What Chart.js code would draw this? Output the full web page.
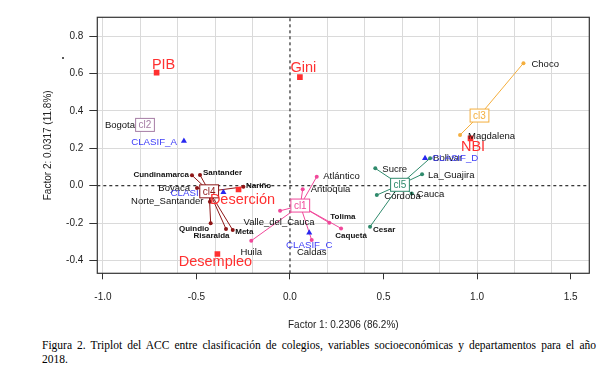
<!DOCTYPE html>
<html>
<head>
<meta charset="utf-8">
<script src="https://cdn.jsdelivr.net/npm/chart.js@4.4.0/dist/chart.umd.min.js"></script>
<style>
  html, body { margin: 0; padding: 0; background: #fff; }
  #wrap { position: relative; width: 606px; height: 378px; overflow: hidden; }
  #caption {
    position: absolute; left: 42px; top: 338px; width: 554px;
    font-family: "Liberation Serif", "Times New Roman", serif;
    font-size: 11.5px; line-height: 14px; color: #000;
  }
  #caption .l1 { text-align: justify; text-align-last: justify; }
  #stray { position: absolute; left: 61.5px; top: 56.5px; width: 2px; height: 2px; background: #222; border-radius: 1px; }
</style>
</head>
<body>
<div id="wrap">
  <canvas id="acc" width="606" height="336"></canvas>
  <div id="stray"></div>
  <div id="caption">
    <div class="l1">Figura 2. Triplot del ACC entre clasificación de colegios, variables socioeconómicas y departamentos para el año</div>
    <div>2018.</div>
  </div>
</div>
<script>
// ---------------------------------------------------------------
//  Datos
// ---------------------------------------------------------------
const departamentos = ['Bogota', 'Cundinamarca', 'Santander', 'Boyaca', 'Nariño', 'Norte_Santander', 'Quindio', 'Risaralda', 'Meta',
  'Atlántico', 'Antioquia', 'Valle_del_Cauca', 'Huila', 'Tolima', 'Caquetá', 'Caldas',
  'Sucre', 'La_Guajira', 'Córdoba', 'Cauca', 'Cesar', 'Bolivar', 'Choco', 'Magdalena'];
const depX = [-0.775, -0.524, -0.481, -0.497, -0.249, -0.428, -0.424, -0.342, -0.306,
  0.143, 0.068, -0.053, -0.207, 0.210, 0.273, 0.116,
  0.456, 0.706, 0.464, 0.651, 0.428, 0.749, 1.248, 0.909];
const depY = [0.325, 0.056, 0.057, -0.012, -0.006, -0.086, -0.201, -0.231, -0.237,
  0.048, -0.019, -0.134, -0.294, -0.198, -0.228, -0.290,
  0.093, 0.061, -0.050, -0.041, -0.219, 0.147, 0.655, 0.271];
const depCluster = ['cl2', 'cl4', 'cl4', 'cl4', 'cl4', 'cl4', 'cl4', 'cl4', 'cl4',
  'cl1', 'cl1', 'cl1', 'cl1', 'cl1', 'cl1', 'cl1',
  'cl5', 'cl5', 'cl5', 'cl5', 'cl5', 'cl5', 'cl3', 'cl3'];

const clusters = ['cl1', 'cl2', 'cl3', 'cl4', 'cl5'];
const clusterX = [0.055, -0.775, 1.013, -0.432, 0.588];
const clusterY = [-0.106, 0.325, 0.375, -0.030, 0.005];

const variables = ['PIB', 'Gini', 'NBI', 'Deserción', 'Desempleo'];
const varX = [-0.713, 0.053, 0.965, -0.275, -0.388];
const varY = [0.604, 0.580, 0.253, -0.020, -0.365];

const clasificaciones = ['CLASIF_A', 'CLASIF_B', 'CLASIF_C', 'CLASIF_D'];
const clasifX = [-0.567, -0.356, 0.103, 0.722];
const clasifY = [0.239, -0.035, -0.251, 0.147];

const xGrid = [-1.0, -0.8, -0.6, -0.4, -0.2, 0.0, 0.2, 0.4, 0.6, 0.8, 1.0, 1.2, 1.4, 1.6];
const xLabels = [-1.0, -0.5, 0.0, 0.5, 1.0, 1.5];
const yTicks = [-0.4, -0.2, 0.0, 0.2, 0.4, 0.6, 0.8];

const xMin = -1.03, xMax = 1.6, yMin = -0.468, yMax = 0.9;

// ---------------------------------------------------------------
//  Estilos
// ---------------------------------------------------------------
const colorCluster = { cl1: '#F0489A', cl2: '#A67DA5', cl3: '#F4AE3D', cl4: '#8E1616', cl5: '#2F8A6C' };
const rojo = '#FF3030';
const azul = '#2828F0';
const FUENTE = '"Liberation Sans", Arial, sans-serif';

// [alineación, dx, dy, tipo]  (n = normal 9.5px, b = negrita 8px)
const etiquetas = {
  Bogota: ['right', -10, 0, 'n'],
  Cundinamarca: ['right', -3, -0.5, 'b'],
  Santander: ['left', 3, -2.5, 'b'],
  Boyaca: ['right', -7, 0, 'n'],
  'Nariño': ['left', 2.5, -1, 'b'],
  Norte_Santander: ['right', -6.5, 0, 'n'],
  Quindio: ['right', -1.5, 5, 'b'],
  Risaralda: ['right', 3.5, 7, 'b'],
  Meta: ['left', 2.5, 2, 'b'],
  'Atlántico': ['left', 6.5, 0, 'n'],
  Antioquia: ['left', 8, 0.5, 'n'],
  Valle_del_Cauca: ['center', -1, 11.5, 'n'],
  Huila: ['center', 0, 11.5, 'n'],
  Tolima: ['left', 1, -6, 'b'],
  'Caquetá': ['center', 10, 7, 'b'],
  Caldas: ['center', 0, 12, 'n'],
  Sucre: ['left', 7, 1, 'n'],
  La_Guajira: ['left', 6, 1, 'n'],
  'Córdoba': ['left', 7.5, 1, 'n'],
  Cauca: ['left', 5, 1, 'n'],
  Cesar: ['left', 3, 3.5, 'b'],
  Bolivar: ['left', 3, 0.5, 'n'],
  Choco: ['left', 8, 1, 'n'],
  Magdalena: ['left', 8, 1.5, 'n']
};
const etiquetasVar = {
  PIB: ['center', 7, -8], Gini: ['center', 3.5, -9], NBI: ['center', 2.5, 8.5],
  'Deserción': ['center', 4, 11], Desempleo: ['center', -2, 7.5]
};
const etiquetasClasif = {
  CLASIF_A: ['right', -7, 1], CLASIF_B: ['right', -7, 1],
  CLASIF_C: ['center', 0, 12.5], CLASIF_D: ['left', 7, 0.5]
};

// ---------------------------------------------------------------
//  Datasets
// ---------------------------------------------------------------
const datasets = [];

// líneas punteadas en cero
datasets.push({ type: 'line', data: [{ x: 0, y: yMin }, { x: 0, y: yMax }], borderColor: '#000', borderWidth: 1, borderDash: [3, 3], pointRadius: 0, order: 20 });
datasets.push({ type: 'line', data: [{ x: xMin, y: 0 }, { x: xMax, y: 0 }], borderColor: '#000', borderWidth: 1, borderDash: [3, 3], pointRadius: 0, order: 20 });

// enlaces centro -> departamento
clusters.forEach((cl, k) => {
  const pts = [];
  departamentos.forEach((d, i) => {
    if (depCluster[i] !== cl) return;
    pts.push({ x: clusterX[k], y: clusterY[k] }, { x: depX[i], y: depY[i] }, { x: depX[i], y: null });
  });
  datasets.push({ type: 'line', data: pts, borderColor: colorCluster[cl], borderWidth: 1, pointRadius: 0, spanGaps: false, order: 10 });
});

// puntos de departamentos
clusters.forEach(cl => {
  const pts = [];
  departamentos.forEach((d, i) => { if (depCluster[i] === cl) pts.push({ x: depX[i], y: depY[i] }); });
  datasets.push({ data: pts, pointRadius: 2, pointBackgroundColor: colorCluster[cl], pointBorderWidth: 0, order: 5 });
});

// variables socioeconómicas
datasets.push({ data: variables.map((v, i) => ({ x: varX[i], y: varY[i] })), pointStyle: 'rect', pointRadius: 4, pointBackgroundColor: rojo, pointBorderWidth: 0, order: 1 });
// clasificación
datasets.push({ data: clasificaciones.map((v, i) => ({ x: clasifX[i], y: clasifY[i] })), pointStyle: 'triangle', pointRadius: 3.5, pointBackgroundColor: azul, pointBorderWidth: 0, order: 1 });

// ---------------------------------------------------------------
//  Plugin: marco y etiquetas
// ---------------------------------------------------------------
const enLista = (lista, v) => lista.some(t => Math.abs(t - v) < 1e-6);

const etiquetasPlugin = {
  id: 'etiquetas',
  afterDatasetsDraw(chart) {
    const { ctx, chartArea: a, scales: { x, y } } = chart;
    ctx.save();
    // marco
    ctx.strokeStyle = '#333';
    ctx.lineWidth = 1.2;
    ctx.strokeRect(a.left, a.top, a.right - a.left, a.bottom - a.top);

    ctx.textBaseline = 'middle';
    // departamentos
    departamentos.forEach((nombre, i) => {
      const [al, dx, dy, tipo] = etiquetas[nombre];
      ctx.font = tipo === 'b' ? 'bold 8px ' + FUENTE : '9.5px ' + FUENTE;
      ctx.fillStyle = '#111';
      ctx.textAlign = al;
      ctx.fillText(nombre, x.getPixelForValue(depX[i]) + dx, y.getPixelForValue(depY[i]) + dy);
    });
    // clasificaciones
    ctx.font = '9.7px ' + FUENTE;
    ctx.fillStyle = '#4040F8';
    clasificaciones.forEach((nombre, i) => {
      const [al, dx, dy] = etiquetasClasif[nombre];
      ctx.textAlign = al;
      ctx.fillText(nombre, x.getPixelForValue(clasifX[i]) + dx, y.getPixelForValue(clasifY[i]) + dy);
    });
    // cajas de clusters
    ctx.font = '10px ' + FUENTE;
    ctx.textAlign = 'center';
    clusters.forEach((cl, k) => {
      const px = x.getPixelForValue(clusterX[k]), py = y.getPixelForValue(clusterY[k]);
      const w = ctx.measureText(cl).width + 6, h = 13;
      ctx.fillStyle = '#fff';
      ctx.fillRect(px - w / 2, py - h / 2, w, h);
      ctx.strokeStyle = colorCluster[cl];
      ctx.lineWidth = 1;
      ctx.strokeRect(px - w / 2, py - h / 2, w, h);
      ctx.fillStyle = colorCluster[cl];
      ctx.fillText(cl, px, py + 0.5);
    });
    // variables
    ctx.font = '14.5px ' + FUENTE;
    ctx.fillStyle = rojo;
    variables.forEach((nombre, i) => {
      const [al, dx, dy] = etiquetasVar[nombre];
      ctx.textAlign = al;
      ctx.fillText(nombre, x.getPixelForValue(varX[i]) + dx, y.getPixelForValue(varY[i]) + dy);
    });
    ctx.restore();
  }
};

// ---------------------------------------------------------------
//  Gráfico
// ---------------------------------------------------------------
new Chart(document.getElementById('acc').getContext('2d'), {
  type: 'scatter',
  data: { datasets },
  options: {
    responsive: false,
    animation: false,
    layout: { padding: { top: 17.3, right: 16.7, left: 0, bottom: 0 } },
    plugins: { legend: { display: false }, tooltip: { enabled: false } },
    scales: {
      x: {
        type: 'linear', min: xMin, max: xMax,
        afterBuildTicks: s => {
          const vals = [...new Set([...xGrid, ...xLabels])].sort((a, b) => a - b);
          s.ticks = vals.map(v => ({ value: v }));
        },
        afterFit: s => { s.height = 62.7; },
        border: { display: false },
        grid: {
          color: c => (enLista(xGrid, c.tick.value) && Math.abs(c.tick.value) > 1e-6 ? '#DADADA' : 'rgba(0,0,0,0)'),
          tickColor: c => (enLista(xLabels, c.tick.value) ? '#333' : 'rgba(0,0,0,0)'),
          tickLength: 6, lineWidth: 1
        },
        ticks: {
          autoSkip: false, maxRotation: 0, padding: 12, color: '#222',
          font: { family: FUENTE, size: 10 },
          callback: v => (enLista(xLabels, v) ? v.toFixed(1) : '')
        },
        title: { display: true, text: 'Factor 1: 0.2306 (86.2%)', color: '#222', font: { family: FUENTE, size: 10 }, padding: { top: 0, bottom: 5 } }
      },
      y: {
        type: 'linear', min: yMin, max: yMax,
        afterBuildTicks: s => { s.ticks = yTicks.map(v => ({ value: v })); },
        afterFit: s => { s.width = 97.3; },
        border: { display: false },
        grid: {
          color: c => (Math.abs(c.tick.value) > 1e-6 ? '#DADADA' : 'rgba(0,0,0,0)'),
          tickColor: '#333', tickLength: 8, lineWidth: 1
        },
        ticks: {
          autoSkip: false, padding: 6, color: '#222',
          font: { family: FUENTE, size: 10 },
          callback: v => v.toFixed(1)
        },
        title: { display: true, text: 'Factor 2: 0.0317 (11.8%)', color: '#222', font: { family: FUENTE, size: 10 }, padding: { top: 42, bottom: 0 } }
      }
    }
  },
  plugins: [etiquetasPlugin]
});
</script>
</body>
</html>
